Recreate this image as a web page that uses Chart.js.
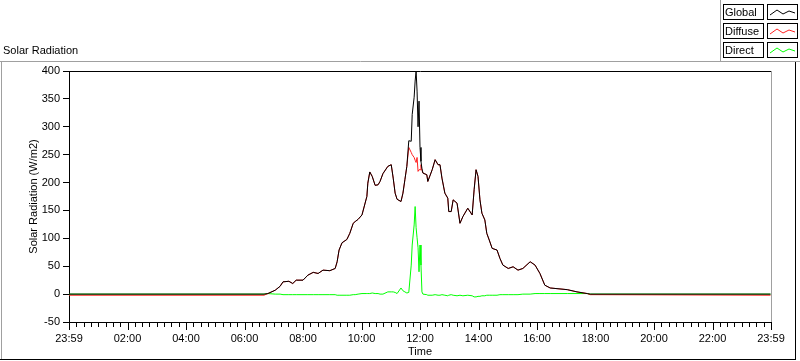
<!DOCTYPE html>
<html>
<head>
<meta charset="utf-8">
<title>Solar Radiation</title>
<script src="https://cdn.jsdelivr.net/npm/chart.js@4.4.1/dist/chart.umd.min.js"></script>
<style>
  html, body { margin: 0; padding: 0; background: #fff; }
  #wrap { position: relative; width: 800px; height: 361px; overflow: hidden;
          font-family: "Liberation Sans", Arial, sans-serif; font-size: 11px; color: #000; }
  #chart { position: absolute; left: 0; top: 0; }
  .plot-title { position: absolute; left: 3px; top: 44px; }
  .legend { position: absolute; left: 723px; top: 4px; width: 77px; }
  .legend .row { position: relative; height: 19px; }
  .legend .lbl { position: absolute; left: 0; top: 0; width: 38px; height: 14px; line-height: 14px;
                 border: 1px solid #000; padding-left: 1px; }
  .legend .swatch { position: absolute; left: 44px; top: 0; width: 29px; height: 14px; border: 1px solid #000; }
</style>
</head>
<body>
<div id="wrap">
  <canvas id="chart" width="800" height="361"></canvas>
  <div class="plot-title">Solar Radiation</div>
  <div class="legend" id="legend"></div>
</div>
<script>
// ── Data (minutes after 23:59 of the previous day) ─────────
const times = [
  0, 400, 408, 423, 433, 439, 451, 459, 466, 480, 490, 501, 511, 521, 535, 546,
  550, 554, 560, 570, 576, 583, 587, 593, 601, 611, 613, 617, 622, 628, 634, 638,
  644, 654, 661, 665, 669, 673, 681, 685, 689, 693, 697, 702, 704, 708, 710, 712,
  714, 716, 718, 720, 722, 724, 726, 734, 736, 745, 751, 757, 761, 765, 771, 777,
  779, 784, 788, 796, 802, 808, 818, 827, 831, 835, 839, 843, 847, 853, 857, 862,
  868, 878, 884, 890, 901, 911, 921, 931, 946, 956, 966, 976, 987, 1022, 1042, 1063,
  1069, 1439,
];
const globalVals = [
  0, 0, 1, 7, 14, 22, 23, 19, 25, 25, 34, 39, 37, 43, 42, 46,
  58, 79, 92, 98, 109, 127, 130, 134, 142, 175, 199, 219, 211, 195, 196, 202,
  216, 229, 232, 208, 181, 170, 166, 181, 205, 229, 275, 274, 322, 353, 382, 400,
  364, 300, 346, 263, 238, 225, 217, 214, 202, 223, 241, 232, 232, 208, 181, 172,
  148, 148, 169, 163, 127, 139, 154, 142, 187, 223, 211, 169, 145, 133, 109, 97,
  82, 79, 64, 52, 46, 49, 43, 46, 58, 52, 37, 16, 11, 8, 4, 1,
  0, 0,
];
const diffuseVals = [
  -2, -2, 1, 7, 14, 22, 23, 19, 25, 25, 34, 39, 37, 43, 42, 46,
  58, 79, 92, 98, 109, 127, 130, 134, 142, 175, 199, 219, 211, 195, 196, 202,
  216, 229, 232, 208, 181, 170, 166, 181, 205, 229, 263, 254, 250, 245, 240, 236,
  245, 220, 223, 223, 232, 222, 217, 214, 202, 223, 241, 232, 232, 208, 181, 172,
  148, 148, 169, 163, 127, 139, 154, 142, 187, 223, 211, 169, 145, 133, 109, 97,
  82, 79, 64, 52, 46, 49, 43, 46, 58, 52, 37, 16, 11, 8, 4, 1,
  -1, -2,
];
const directVals = [
  0, 0, 1, 0, 0, -1, -1, -1, -1, -1, -1, -1, -1, -1, -1, -1,
  -2, -2, -2, -2, -2, -1, -1, 0, 1, 1, 1, 1, 2, 1, 1, 0,
  0, 4, 4, 4, 3, 1, 11, 6, 4, 2, 3, 52, 88, 124, 157, 119,
  101, 83, 40, 88, 52, 4, 0, -1, -2, -2, -1, -2, -2, -1, -2, -3,
  -2, -1, -2, -3, -2, -3, -2, -3, -5, -5, -4, -4, -3, -3, -2, -2,
  -2, -2, -1, -1, -1, -1, -1, 0, 0, 1, 1, 1, 1, 1, 1, 1,
  0, 0,
];
const xTickValues = [0, 120, 240, 360, 480, 600, 720, 840, 960, 1080, 1200, 1320, 1440];
const xTickLabels = ['23:59', '02:00', '04:00', '06:00', '08:00', '10:00', '12:00',
                     '14:00', '16:00', '18:00', '20:00', '22:00', '23:59'];

const SERIES = [
  { label: 'Global',  values: globalVals,  color: '#000000' },
  { label: 'Diffuse', values: diffuseVals, color: '#ff2020' },
  { label: 'Direct',  values: directVals,  color: '#00ff00' },
];

const FONT = { family: "'Liberation Sans', Arial, sans-serif", size: 11 };

// ── Legend (LabVIEW style boxes) ───────────────────────────
const legendEl = document.getElementById('legend');
legendEl.innerHTML = SERIES.map((s) => `
  <div class="row">
    <div class="lbl">${s.label}</div>
    <div class="swatch">
      <svg width="29" height="14"><polyline points="2,10 9,5 15,9 21,6 27,8"
        fill="none" stroke="${s.color}" stroke-width="1"/></svg>
    </div>
  </div>`).join('');

// ── Frames + minor/major x tick marks ──────────────────────
const framePlugin = {
  id: 'frames',
  afterDraw(chart) {
    const { ctx, chartArea: a } = chart;
    const xs = chart.scales.x;
    ctx.save();
    ctx.lineWidth = 1;
    // outer panel
    ctx.strokeStyle = '#a0a0a0';
    ctx.beginPath();
    ctx.moveTo(0, 61.5); ctx.lineTo(721, 61.5);
    ctx.moveTo(1.5, 61); ctx.lineTo(1.5, 360);
    ctx.moveTo(720.5, 0); ctx.lineTo(720.5, 62);
    ctx.moveTo(721, 61.5); ctx.lineTo(800, 61.5);
    ctx.stroke();
    ctx.strokeStyle = '#000';
    ctx.beginPath();
    ctx.moveTo(0, 359.5); ctx.lineTo(796, 359.5);
    ctx.moveTo(795.5, 62); ctx.lineTo(795.5, 360);
    ctx.stroke();
    // plot area top (black) and right (gray)
    ctx.beginPath();
    ctx.moveTo(a.left, Math.floor(a.top) + 0.5); ctx.lineTo(a.right + 1, Math.floor(a.top) + 0.5);
    ctx.stroke();
    ctx.strokeStyle = '#a0a0a0';
    ctx.beginPath();
    ctx.moveTo(Math.round(a.right) + 0.5, a.top); ctx.lineTo(Math.round(a.right) + 0.5, a.bottom);
    ctx.stroke();
    // x tick marks: every 15 min, longer every 2 h
    ctx.strokeStyle = '#000';
    ctx.beginPath();
    for (let m = 0; m <= 1440; m += 15) {
      const px = Math.round(xs.getPixelForValue(m)) + 0.5;
      const len = m % 120 === 0 ? 7 : 4;
      ctx.moveTo(px, a.bottom + 1); ctx.lineTo(px, a.bottom + 1 + len);
    }
    ctx.stroke();
    ctx.restore();
  },
};

new Chart(document.getElementById('chart').getContext('2d'), {
  type: 'line',
  data: {
    datasets: SERIES.map((s, i) => ({
      label: s.label,
      data: times.map((t, j) => ({ x: t, y: s.values[j] })),
      borderColor: s.color,
      backgroundColor: s.color,
      borderWidth: 1,
      pointRadius: 0,
      tension: 0,
      fill: false,
      order: i,
    })),
  },
  options: {
    responsive: false,
    animation: false,
    layout: { padding: { left: 27, top: 71, right: 29, bottom: 0 } },
    plugins: { legend: { display: false }, tooltip: { enabled: false } },
    scales: {
      x: {
        type: 'linear',
        min: 0,
        max: 1440,
        afterBuildTicks: (s) => { s.ticks = xTickValues.map((v) => ({ value: v })); },
        afterFit: (s) => { s.height = 39; },
        grid: { drawOnChartArea: false, drawTicks: false },
        border: { color: '#000' },
        ticks: {
          autoSkip: false,
          maxRotation: 0,
          padding: 10,
          color: '#000',
          font: FONT,
          callback: (v, i) => xTickLabels[i],
        },
        title: { display: true, text: 'Time', color: '#000', font: FONT, padding: { top: 0, bottom: 2 } },
      },
      y: {
        min: -50,
        max: 400,
        afterFit: (s) => { s.width = 42; },
        grid: { drawOnChartArea: false, tickLength: 6, tickColor: '#000' },
        border: { color: '#000' },
        ticks: { stepSize: 50, padding: 3, color: '#000', font: FONT },
        title: { display: true, text: 'Solar Radiation (W/m2)', color: '#000', font: FONT, padding: 0 },
      },
    },
  },
  plugins: [framePlugin],
});
</script>
</body>
</html>
